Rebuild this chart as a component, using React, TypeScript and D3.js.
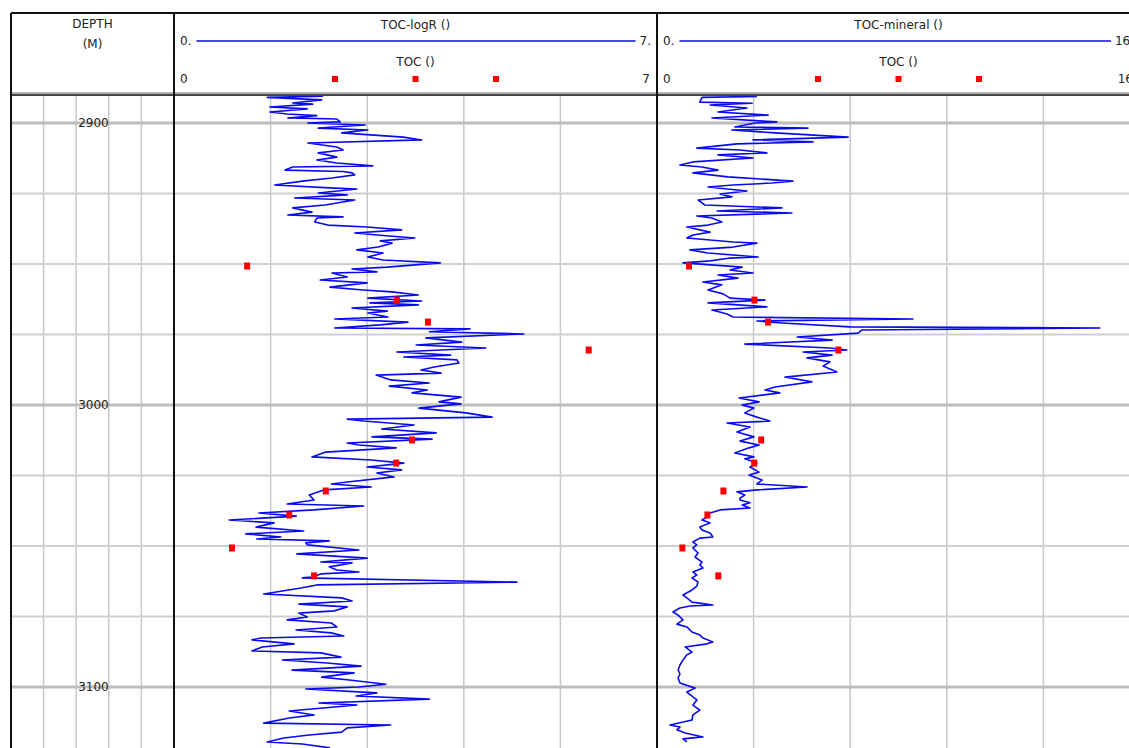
import React from "react";
import * as d3 from "d3";

// Curve TOC-logR (depth m, value)
const logR: [number, number][] = [
  [2890.5, 2.16], [2890.9, 1.35], [2891.8, 2.14], [2892.9, 1.72], [2893.3, 2.01], [2894.3, 1.39],
  [2895.0, 1.93], [2896.1, 1.39], [2896.8, 1.64], [2897.4, 2.07], [2898.2, 1.65], [2898.6, 2.36],
  [2899.6, 2.41], [2900.0, 1.94], [2900.7, 2.77], [2901.8, 2.09], [2902.5, 2.81], [2903.5, 2.43],
  [2905.0, 3.32], [2906.0, 3.59], [2907.1, 1.94], [2908.5, 2.36], [2909.6, 2.45], [2910.6, 2.09],
  [2912.1, 2.36], [2913.1, 2.07], [2914.2, 2.36], [2915.2, 2.88], [2915.6, 1.72], [2916.7, 1.61],
  [2917.2, 2.45], [2917.7, 2.58], [2918.4, 2.62], [2919.5, 2.29], [2920.6, 1.86], [2922.0, 1.46],
  [2923.0, 2.26], [2923.4, 2.65], [2924.8, 2.09], [2925.5, 2.51], [2926.6, 1.75], [2927.3, 2.62],
  [2929.1, 2.19], [2930.1, 1.72], [2931.6, 2.0], [2932.6, 1.65], [2933.3, 2.45], [2933.7, 2.07],
  [2935.1, 2.04], [2936.2, 2.23], [2936.9, 2.8], [2937.9, 3.3], [2939.0, 2.62], [2939.7, 2.94],
  [2940.8, 3.49], [2941.8, 2.99], [2942.6, 3.16], [2944.0, 2.96], [2945.0, 2.65], [2946.1, 3.03],
  [2947.5, 2.81], [2948.6, 3.03], [2949.6, 3.86], [2951.1, 3.09], [2951.8, 2.58], [2952.8, 2.94],
  [2953.2, 2.29], [2954.6, 2.51], [2955.7, 2.12], [2956.7, 2.8], [2958.2, 2.26], [2959.2, 2.74],
  [2959.9, 3.16], [2961.0, 3.54], [2962.1, 2.81], [2963.1, 3.59], [2963.8, 2.84], [2964.5, 3.54],
  [2965.6, 2.58], [2966.7, 3.09], [2967.4, 2.81], [2968.8, 3.1], [2969.5, 2.33], [2970.6, 3.39],
  [2971.6, 2.99], [2972.7, 2.33], [2973.0, 4.29], [2974.0, 3.7], [2974.8, 5.07], [2976.2, 3.65],
  [2977.7, 4.17], [2978.7, 3.51], [2979.8, 4.52], [2981.2, 3.23], [2982.3, 4.01], [2983.0, 3.33],
  [2984.0, 4.1], [2985.1, 4.13], [2986.5, 3.77], [2987.6, 3.58], [2988.7, 3.87], [2989.4, 2.93],
  [2991.1, 3.14], [2992.2, 3.7], [2993.3, 3.12], [2994.7, 3.67], [2995.7, 3.45], [2997.2, 4.16],
  [2998.9, 3.84], [2999.6, 4.16], [3001.1, 3.55], [3002.8, 4.23], [3004.3, 4.61], [3005.0, 2.51],
  [3005.7, 2.75], [3007.1, 3.48], [3008.5, 3.01], [3009.9, 3.8], [3011.3, 2.87], [3012.1, 3.74],
  [3013.5, 2.51], [3014.2, 2.68], [3015.2, 3.22], [3016.7, 2.2], [3018.4, 2.0], [3019.5, 2.86],
  [3020.6, 3.33], [3022.0, 2.8], [3023.0, 3.3], [3024.1, 2.94], [3025.5, 3.19], [3027.3, 2.51],
  [3028.0, 2.28], [3029.1, 2.86], [3030.1, 2.17], [3031.9, 1.96], [3033.7, 2.03], [3035.1, 1.64],
  [3035.8, 2.75], [3037.2, 2.03], [3038.3, 1.23], [3039.4, 1.77], [3040.8, 0.8], [3041.8, 1.45],
  [3043.3, 1.19], [3044.7, 1.88], [3045.7, 1.04], [3046.8, 1.55], [3047.5, 1.2], [3048.2, 2.25],
  [3048.9, 1.91], [3049.6, 1.93], [3051.4, 2.68], [3052.8, 1.78], [3054.3, 2.8], [3055.7, 2.13],
  [3056.0, 2.58], [3057.4, 2.25], [3058.5, 2.36], [3059.2, 2.68], [3059.9, 2.13], [3061.0, 1.99],
  [3061.3, 1.86], [3062.8, 4.97], [3063.8, 2.07], [3064.9, 1.84], [3067.0, 1.3], [3068.4, 2.43],
  [3069.5, 2.58], [3070.6, 1.81], [3071.6, 2.51], [3073.0, 2.32], [3073.8, 1.81], [3075.2, 1.93],
  [3076.2, 1.64], [3077.3, 2.28], [3078.7, 2.36], [3079.8, 1.77], [3080.8, 2.28], [3081.9, 2.46],
  [3082.6, 1.26], [3083.3, 1.13], [3084.7, 1.74], [3085.8, 1.28], [3087.2, 1.13], [3087.9, 2.13],
  [3089.4, 2.42], [3090.4, 1.57], [3091.5, 2.22], [3092.6, 2.71], [3094.0, 1.71], [3095.0, 2.61],
  [3096.5, 2.14], [3097.5, 2.54], [3099.0, 3.07], [3100.0, 2.68], [3100.7, 1.91], [3102.1, 2.94],
  [3103.2, 2.64], [3104.3, 3.7], [3105.7, 2.1], [3106.4, 2.65], [3108.5, 1.67], [3109.9, 2.03],
  [3111.0, 1.67], [3112.8, 1.3], [3113.5, 3.14], [3114.5, 2.51], [3116.0, 2.43], [3117.0, 1.96],
  [3118.1, 1.59], [3119.5, 1.35], [3120.2, 1.86], [3121.6, 2.26],
];

// Curve TOC-mineral (depth m, value)
const mineral: [number, number][] = [
  [2890.6, 3.31], [2890.9, 1.49], [2892.6, 1.42], [2893.0, 3.15], [2893.6, 1.76], [2894.7, 2.98],
  [2896.1, 2.02], [2897.2, 3.68], [2898.2, 1.82], [2899.6, 3.97], [2900.0, 3.25], [2901.4, 2.58],
  [2901.8, 5.0], [2902.5, 2.48], [2903.5, 3.91], [2905.0, 6.33], [2906.0, 3.18], [2906.7, 5.17],
  [2907.4, 2.65], [2908.9, 1.32], [2909.6, 2.75], [2910.6, 3.64], [2911.3, 2.02], [2912.4, 3.18],
  [2913.8, 1.19], [2914.9, 0.76], [2915.6, 1.49], [2916.7, 2.02], [2917.7, 1.19], [2919.1, 2.35],
  [2920.6, 4.5], [2921.3, 3.81], [2922.0, 2.52], [2922.7, 1.69], [2924.1, 2.98], [2925.2, 2.09],
  [2926.2, 2.48], [2927.3, 1.36], [2929.1, 1.59], [2930.1, 4.14], [2931.2, 1.99], [2931.9, 4.47],
  [2933.0, 1.32], [2933.7, 1.82], [2935.1, 2.15], [2936.2, 1.69], [2936.9, 0.99], [2938.7, 1.76],
  [2939.7, 1.19], [2940.8, 0.99], [2942.2, 2.52], [2942.6, 3.31], [2944.0, 2.52], [2945.0, 1.09],
  [2946.1, 1.69], [2947.5, 3.35], [2947.9, 2.42], [2948.9, 1.76], [2949.6, 0.86], [2951.1, 2.82],
  [2952.1, 2.42], [2953.2, 3.18], [2953.9, 2.02], [2955.0, 2.68], [2956.4, 1.52], [2957.4, 2.15],
  [2959.2, 1.69], [2960.6, 2.19], [2962.1, 2.42], [2962.8, 3.58], [2963.8, 1.69], [2965.2, 3.64],
  [2966.3, 1.82], [2967.7, 2.32], [2968.8, 2.52], [2969.5, 8.48], [2970.2, 3.31], [2970.9, 4.14],
  [2972.3, 6.39], [2972.7, 14.67], [2973.4, 6.79], [2974.5, 6.66], [2975.9, 4.64], [2977.0, 5.8],
  [2978.4, 2.91], [2979.8, 5.73], [2980.5, 6.29], [2981.2, 4.84], [2982.3, 5.8], [2983.3, 4.97],
  [2984.7, 5.73], [2986.2, 5.5], [2988.3, 5.96], [2990.1, 4.24], [2991.8, 5.13], [2993.6, 3.91],
  [2994.7, 3.58], [2995.7, 4.07], [2997.5, 2.72], [2998.9, 3.38], [3000.0, 2.82], [3001.1, 3.21],
  [3002.8, 2.91], [3004.3, 3.31], [3005.7, 3.74], [3006.4, 2.32], [3007.8, 3.08], [3009.6, 2.65],
  [3011.3, 3.21], [3012.8, 2.75], [3014.2, 3.38], [3015.2, 3.05], [3017.0, 2.58], [3018.4, 3.21],
  [3019.1, 2.91], [3020.6, 3.31], [3022.0, 3.08], [3023.8, 3.38], [3024.8, 3.05], [3026.6, 3.48],
  [3028.0, 3.31], [3029.1, 4.97], [3030.1, 3.31], [3030.8, 2.65], [3031.9, 2.91], [3033.0, 2.75],
  [3033.7, 2.75], [3034.7, 3.08], [3035.5, 2.82], [3036.5, 3.08], [3037.2, 2.09], [3038.3, 1.76],
  [3039.7, 1.66], [3040.8, 1.49], [3041.1, 1.59], [3041.8, 1.76], [3043.3, 1.42], [3044.3, 1.49],
  [3045.4, 1.76], [3046.8, 1.85], [3047.2, 1.42], [3048.6, 1.19], [3049.6, 1.32], [3050.7, 1.19],
  [3052.5, 1.36], [3053.9, 1.26], [3055.7, 1.49], [3056.7, 1.42], [3057.8, 1.52], [3059.2, 1.19],
  [3060.3, 1.32], [3061.3, 1.16], [3062.8, 1.36], [3064.2, 1.32], [3065.6, 1.16], [3067.4, 0.86],
  [3068.4, 0.99], [3069.9, 1.16], [3070.9, 1.85], [3071.3, 1.09], [3072.0, 0.76], [3073.4, 0.53],
  [3074.5, 0.7], [3076.2, 0.86], [3077.7, 0.66], [3078.7, 0.99], [3080.5, 1.16], [3081.6, 1.42],
  [3082.6, 1.52], [3084.0, 1.85], [3084.7, 1.66], [3085.8, 0.93], [3087.6, 1.16], [3088.6, 0.99],
  [3090.4, 0.86], [3092.2, 0.76], [3094.0, 0.7], [3095.4, 0.76], [3096.8, 0.7], [3098.6, 0.76],
  [3100.4, 1.26], [3101.8, 0.99], [3103.5, 1.19], [3104.6, 1.32], [3106.4, 1.19], [3108.2, 1.42],
  [3109.9, 1.19], [3111.7, 1.16], [3113.5, 0.43], [3114.2, 0.76], [3115.2, 0.66], [3116.3, 0.93],
  [3117.7, 1.52], [3118.4, 0.86], [3119.5, 0.99],
];

// Core TOC samples (depth m, value)
const tocDepth = [2950.7, 2962.8, 2970.6, 2980.5, 3012.4, 3020.6, 3030.5, 3039.0, 3050.7, 3060.6];
const tocValue = [1.06, 3.23, 3.68, 6.01, 3.45, 3.22, 2.2, 1.67, 0.84, 2.03];

const depthLabels = [2900, 3000, 3100];

const tracks = [
  { curve: "TOC-logR ()", points: "TOC ()", min: 0, max: 7, minLabel: "0.", maxLabel: "7.", ptMin: "0", ptMax: "7", data: logR },
  { curve: "TOC-mineral ()", points: "TOC ()", min: 0, max: 16, minLabel: "0.", maxLabel: "16.", ptMin: "0", ptMax: "16", data: mineral },
];

const W = 1129;
const H = 748;
const FRAME_LEFT = 11;
const FRAME_TOP = 13;
const HEADER_BOTTOM = 94;
const DEPTH_RIGHT = 174;
const TRACK_W = 483;
const FONT = "'DejaVu Sans', Verdana, sans-serif";
const TEXT = "#222";
const CURVE = "#0a0aee";

// approximate width of a short numeric label at 12px
const labelWidth = (s: string) =>
  s.split("").reduce((w, c) => w + (c === "." ? 3.8 : 7.63), 0);

export default function App() {
  const y = d3.scaleLinear().domain([2900, 3100]).range([123, 687]);
  const dTop = y.invert(HEADER_BOTTOM + 2);
  const dBot = y.invert(H + 10);
  const minorTicks = d3.range(2875, 3150, 25).filter((d) => y(d) > HEADER_BOTTOM + 3 && y(d) < H);

  const trackX0 = (i: number) => DEPTH_RIGHT + i * TRACK_W;

  const renderGridCols = (x0: number, x1: number, key: string) =>
    d3.range(1, 5).map((k) => {
      const gx = x0 + ((x1 - x0) * k) / 5;
      return (
        <line key={key + k} x1={gx} x2={gx} y1={HEADER_BOTTOM + 2} y2={H} stroke="#c8c8c8" strokeWidth={1.5} />
      );
    });

  return (
    <div style={{ position: "absolute", left: 0, top: 0 }}>
      <svg width={W} height={H} style={{ display: "block", background: "#fff" }} fontFamily={FONT}>
        <defs>
          {tracks.map((t, i) => (
            <clipPath id={"clip" + i} key={i}>
              <rect x={trackX0(i)} y={HEADER_BOTTOM + 2} width={TRACK_W} height={H} />
            </clipPath>
          ))}
        </defs>

        {/* grid */}
        {renderGridCols(FRAME_LEFT, DEPTH_RIGHT, "d")}
        {tracks.map((t, i) => renderGridCols(trackX0(i), trackX0(i) + TRACK_W, "t" + i))}
        {minorTicks.map((d) => {
          const major = d % 100 === 0;
          return (
            <line
              key={"h" + d}
              x1={FRAME_LEFT}
              x2={W}
              y1={y(d)}
              y2={y(d)}
              stroke={major ? "#bdbdbd" : "#cfcfcf"}
              strokeWidth={major ? 3 : 1.8}
            />
          );
        })}

        {/* depth labels */}
        {depthLabels.map((d) => (
          <text key={"l" + d} x={(FRAME_LEFT + DEPTH_RIGHT) / 2 + 1} y={y(d)} dy="0.35em" textAnchor="middle" fontSize={12} fill={TEXT}>
            {d}
          </text>
        ))}

        {/* tracks */}
        {tracks.map((t, i) => {
          const x0 = trackX0(i);
          const x1 = x0 + TRACK_W;
          const x = d3.scaleLinear().domain([t.min, t.max]).range([x0, x1]);
          const line = d3
            .line<[number, number]>()
            .x((p) => x(p[1]))
            .y((p) => y(p[0]));
          const visible = t.data.filter((p) => p[0] >= dTop - 1 && p[0] <= dBot);
          const cx = x0 + TRACK_W / 2;
          const lineStart = x0 + 6 + labelWidth(t.minLabel) + 5;
          const lineEnd = x1 - 6 - labelWidth(t.maxLabel) - 4;
          return (
            <g key={"track" + i}>
              <g clipPath={`url(#clip${i})`}>
                <path d={line(visible) || ""} fill="none" stroke={CURVE} strokeWidth={1.6} strokeLinejoin="round" />
                {tocDepth.map((d, k) => (
                  <rect key={k} x={x(tocValue[k]) - 3} y={y(d) - 3.5} width={6} height={7} fill="#ff0000" />
                ))}
              </g>

              {/* header */}
              <text x={cx} y={29} textAnchor="middle" fontSize={12} fill={TEXT}>
                {t.curve}
              </text>
              <line x1={lineStart} x2={lineEnd} y1={41} y2={41} stroke={CURVE} strokeWidth={1.3} />
              <text x={x0 + 6} y={45} fontSize={12} fill={TEXT}>
                {t.minLabel}
              </text>
              <text x={x1 - 6} y={45} fontSize={12} fill={TEXT} textAnchor="end">
                {t.maxLabel}
              </text>
              <text x={cx} y={66} textAnchor="middle" fontSize={12} fill={TEXT}>
                {t.points}
              </text>
              <text x={x0 + 6} y={83} fontSize={12} fill={TEXT}>
                {t.ptMin}
              </text>
              <text x={x1 - 7} y={83} fontSize={12} fill={TEXT} textAnchor="end">
                {t.ptMax}
              </text>
              {[1 / 3, 1 / 2, 2 / 3].map((f) => (
                <rect key={f} x={x0 + TRACK_W * f - 3} y={76} width={6} height={6} fill="#ff0000" />
              ))}
            </g>
          );
        })}

        {/* depth header */}
        <text x={(FRAME_LEFT + DEPTH_RIGHT) / 2} y={28} textAnchor="middle" fontSize={12} fill={TEXT}>
          DEPTH
        </text>
        <text x={(FRAME_LEFT + DEPTH_RIGHT) / 2} y={48} textAnchor="middle" fontSize={12} fill={TEXT}>
          (M)
        </text>

        {/* frame */}
        <line x1={FRAME_LEFT} x2={W} y1={FRAME_TOP} y2={FRAME_TOP} stroke="#111" strokeWidth={2} />
        <line x1={FRAME_LEFT} x2={W} y1={HEADER_BOTTOM - 1} y2={HEADER_BOTTOM - 1} stroke="#9a9a9a" strokeWidth={1.5} />
        <line x1={FRAME_LEFT} x2={W} y1={HEADER_BOTTOM + 1} y2={HEADER_BOTTOM + 1} stroke="#444" strokeWidth={2} />
        {[FRAME_LEFT, DEPTH_RIGHT, DEPTH_RIGHT + TRACK_W].map((bx) => (
          <line key={"b" + bx} x1={bx} x2={bx} y1={FRAME_TOP} y2={H} stroke="#111" strokeWidth={2} />
        ))}
      </svg>
    </div>
  );
}
